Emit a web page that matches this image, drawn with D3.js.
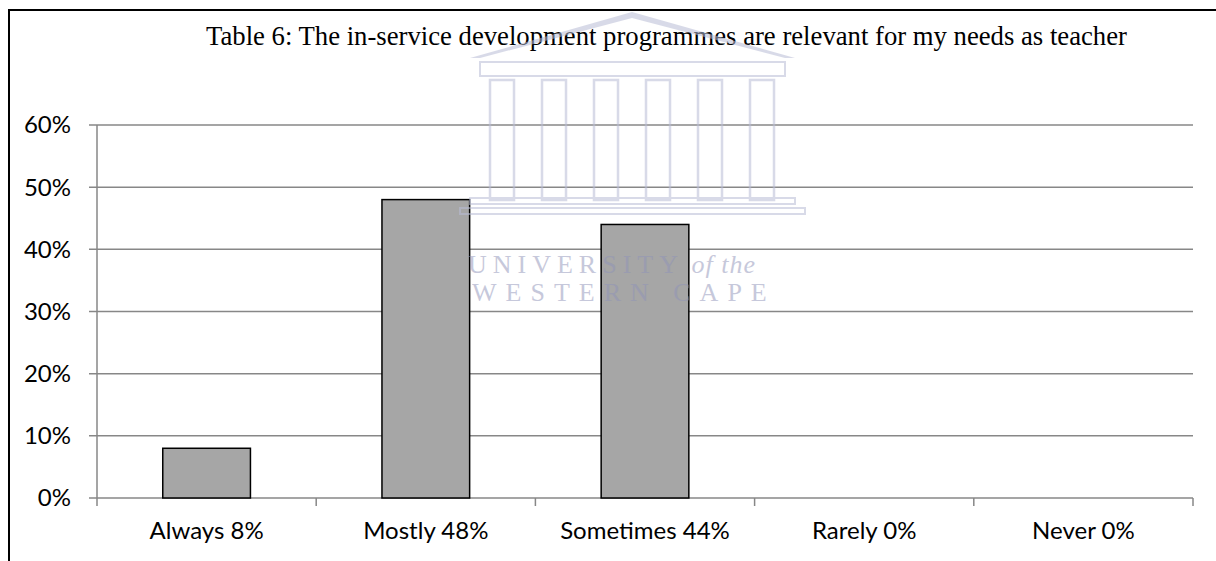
<!DOCTYPE html>
<html>
<head>
<meta charset="utf-8">
<script src="https://cdn.jsdelivr.net/npm/d3@7"></script>
<style>
  body { margin: 0; background: #fff; }
  svg { display: block; }
</style>
</head>
<body>
<svg id="chart" width="1216" height="561"></svg>
<script>
var categories = ["Always 8%", "Mostly 48%", "Sometimes 44%", "Rarely 0%", "Never 0%"];
var values = [0.08, 0.48, 0.44, 0, 0];
var yTicks = [0, 0.1, 0.2, 0.3, 0.4, 0.5, 0.6];
var title = "Table 6: The in-service development programmes are relevant for my needs as teacher";

var svg = d3.select("#chart");
var width = 1216, height = 561;

var plotLeft = 97, plotRight = 1193, plotTop = 125, plotBottom = 498;

var x = d3.scaleBand()
  .domain(categories)
  .range([plotLeft, plotRight])
  .paddingInner(0.6)
  .paddingOuter(0.3);

var y = d3.scaleLinear()
  .domain([0, 0.6])
  .range([plotBottom, plotTop]);

var gridColor = "#878787";
var labelFont = "Lato, 'Open Sans', sans-serif";

// frame (page border)
svg.append("line")
  .attr("x1", 8).attr("x2", width).attr("y1", 10).attr("y2", 10)
  .attr("stroke", "#000").attr("stroke-width", 2);
svg.append("line")
  .attr("x1", 9).attr("x2", 9).attr("y1", 9).attr("y2", height)
  .attr("stroke", "#000").attr("stroke-width", 2);

// title
svg.append("text")
  .attr("x", 206)
  .attr("y", 45)
  .attr("font-family", "'Liberation Serif', 'Times New Roman', serif")
  .attr("font-size", 26.7)
  .attr("fill", "#000")
  .text(title);

// gridlines + y ticks
svg.append("g").selectAll("line")
  .data(yTicks).enter()
  .append("line")
  .attr("x1", plotLeft - 8).attr("x2", plotRight)
  .attr("y1", function (d) { return y(d); })
  .attr("y2", function (d) { return y(d); })
  .attr("stroke", gridColor).attr("stroke-width", 1.5);

svg.append("g").selectAll("text")
  .data(yTicks).enter()
  .append("text")
  .attr("x", plotLeft - 26)
  .attr("y", function (d) { return y(d); })
  .attr("dy", "0.35em")
  .attr("text-anchor", "end")
  .attr("font-family", labelFont)
  .attr("font-size", 24)
  .attr("fill", "#000")
  .text(function (d) { return d3.format(".0%")(d); });

// y axis line
svg.append("line")
  .attr("x1", plotLeft).attr("x2", plotLeft)
  .attr("y1", plotTop).attr("y2", plotBottom + 8)
  .attr("stroke", gridColor).attr("stroke-width", 1.5);

// category boundary ticks
var step = x.step();
var bounds = categories.map(function (c) { return x(c) + x.bandwidth() + step * x.paddingInner() / 2; });
svg.append("g").selectAll("line")
  .data(bounds).enter()
  .append("line")
  .attr("x1", function (d) { return d; }).attr("x2", function (d) { return d; })
  .attr("y1", plotBottom).attr("y2", plotBottom + 8)
  .attr("stroke", gridColor).attr("stroke-width", 1.5);

// bars
svg.append("g").selectAll("rect")
  .data(values.map(function (v, i) { return { c: categories[i], v: v }; })
    .filter(function (d) { return d.v > 0; }))
  .enter()
  .append("rect")
  .attr("x", function (d) { return x(d.c); })
  .attr("y", function (d) { return y(d.v); })
  .attr("width", x.bandwidth())
  .attr("height", function (d) { return y(0) - y(d.v); })
  .attr("fill", "#a6a6a6")
  .attr("stroke", "#000")
  .attr("stroke-width", 1.5);

// x labels
svg.append("g").selectAll("text")
  .data(categories).enter()
  .append("text")
  .attr("x", function (d) { return x(d) + x.bandwidth() / 2; })
  .attr("y", 539)
  .attr("text-anchor", "middle")
  .attr("font-family", labelFont)
  .attr("font-size", 24)
  .attr("fill", "#000")
  .text(function (d) { return d; });

// faint watermark of the source document
var wm = svg.append("g").attr("fill", "#b9bdd6").attr("stroke", "#b9bdd6").attr("opacity", 0.55);
wm.append("path")
  .attr("d", "M470,58 L632,12 L795,58 L785,58 L632,18 L480,58 Z")
  .attr("stroke", "none");
wm.append("rect").attr("x", 480).attr("y", 62).attr("width", 305).attr("height", 14).attr("fill", "none").attr("stroke-width", 2);
d3.range(6).forEach(function (i) {
  var cx = 490 + i * 52;
  wm.append("rect").attr("x", cx).attr("y", 80).attr("width", 24).attr("height", 120).attr("fill", "none").attr("stroke-width", 2.5);
});
wm.append("rect").attr("x", 470).attr("y", 198).attr("width", 325).attr("height", 6).attr("fill", "none").attr("stroke-width", 2);
wm.append("rect").attr("x", 460).attr("y", 208).attr("width", 345).attr("height", 6).attr("fill", "none").attr("stroke-width", 2);

var wmText = svg.append("text")
  .attr("x", 468).attr("y", 273)
  .attr("font-family", "'Liberation Serif', serif")
  .attr("font-size", 26)
  .attr("fill", "#8f93b8").attr("opacity", 0.5);
wmText.append("tspan").attr("letter-spacing", 6).text("UNIVERSITY");
wmText.append("tspan").attr("font-style", "italic").attr("letter-spacing", 1).text(" of the");
svg.append("text")
  .attr("x", 472).attr("y", 301)
  .attr("font-family", "'Liberation Serif', serif")
  .attr("font-size", 26)
  .attr("letter-spacing", 9)
  .attr("fill", "#8f93b8").attr("opacity", 0.5)
  .text("WESTERN CAPE");
</script>
</body>
</html>
